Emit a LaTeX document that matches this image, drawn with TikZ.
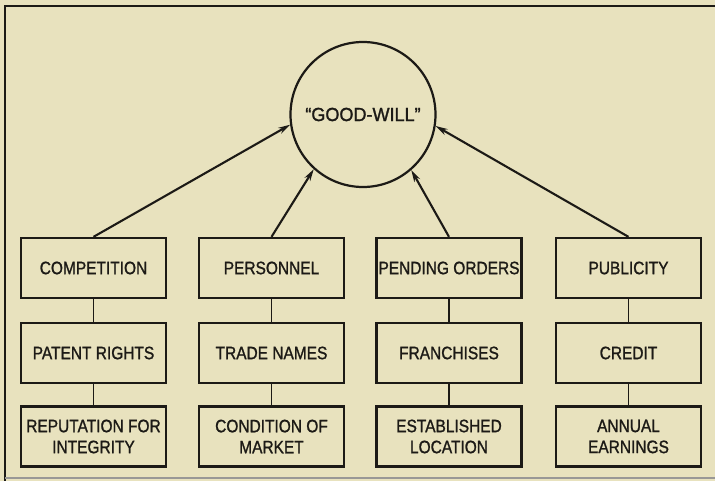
\documentclass[tikz,border=0pt]{standalone}
\usepackage{fontspec}
\setmainfont{Liberation Sans}
\newfontfamily\boxfont[FakeStretch=0.86,FakeBold=1.2]{Liberation Sans}
\newfontfamily\gwfont[FakeStretch=0.95,FakeBold=1.4]{Liberation Sans}
\usetikzlibrary{arrows.meta}
\definecolor{paper}{RGB}{232,226,190}
\definecolor{ink}{RGB}{28,26,22}
\begin{document}
\begin{tikzpicture}[x=1pt,y=-1pt,
  item/.style={draw=ink, line width=2.3pt, minimum width=145pt, minimum height=60pt,
    inner sep=1pt, align=center, text=ink, font=\boxfont\fontsize{18}{21}\selectfont},
  link/.style={draw=ink, line width=1.9pt},
  feed/.style={draw=ink, line width=2.1pt, -{Stealth[length=12pt,width=6.5pt]}},
  frameline/.style={draw=ink, line width=2.4pt}]
\fill[paper] (0,0) rectangle (715,481);
\useasboundingbox (0,0) rectangle (715,481);
% frame
\coordinate (fTL) at (5,6);
\coordinate (fTR) at (715,6);
\coordinate (fBL) at (5,481);
\coordinate (bL) at (5,478);
\coordinate (bR) at (715,478);
\draw[frameline] (fTR) -- (fTL) -- (fBL);
\draw[draw=ink!45, line width=1.2pt] (bL) -- (bR);
% circle
\node[circle, draw=ink, line width=2.2pt, minimum size=145pt, inner sep=0pt, text=ink,
  font=\gwfont\fontsize{19}{21}\selectfont] (gw) at (363,114.5) {“GOOD-WILL”};
% boxes
\node[item] (c1) at (93.5,268) {COMPETITION};
\node[item] (c2) at (93.5,353) {PATENT RIGHTS};
\node[item] (c3) at (93.5,436.5) {REPUTATION FOR\\INTEGRITY};
\node[item] (p1) at (271.5,268) {PERSONNEL};
\node[item] (p2) at (271.5,353) {TRADE NAMES};
\node[item] (p3) at (271.5,436.5) {CONDITION OF\\MARKET};
\node[item] (o1) at (449,268) {PENDING ORDERS};
\node[item] (o2) at (449,353) {FRANCHISES};
\node[item] (o3) at (449,436.5) {ESTABLISHED\\LOCATION};
\node[item] (u1) at (628.5,268) {PUBLICITY};
\node[item] (u2) at (628.5,353) {CREDIT};
\node[item] (u3) at (628.5,436.5) {ANNUAL\\EARNINGS};
% vertical links
\foreach \a/\b in {c1/c2,c2/c3,p1/p2,p2/p3,o1/o2,o2/o3,u1/u2,u2/u3}
  \draw[link] (\a.south) -- (\b.north);
% arrows
\draw[feed] (c1.north) -- (gw.188.6);
\draw[feed] (p1.north) -- (gw.228);
\draw[feed] (o1.north) -- (gw.311);
\draw[feed] (u1.north) -- (gw.351.5);
\end{tikzpicture}
\end{document}
